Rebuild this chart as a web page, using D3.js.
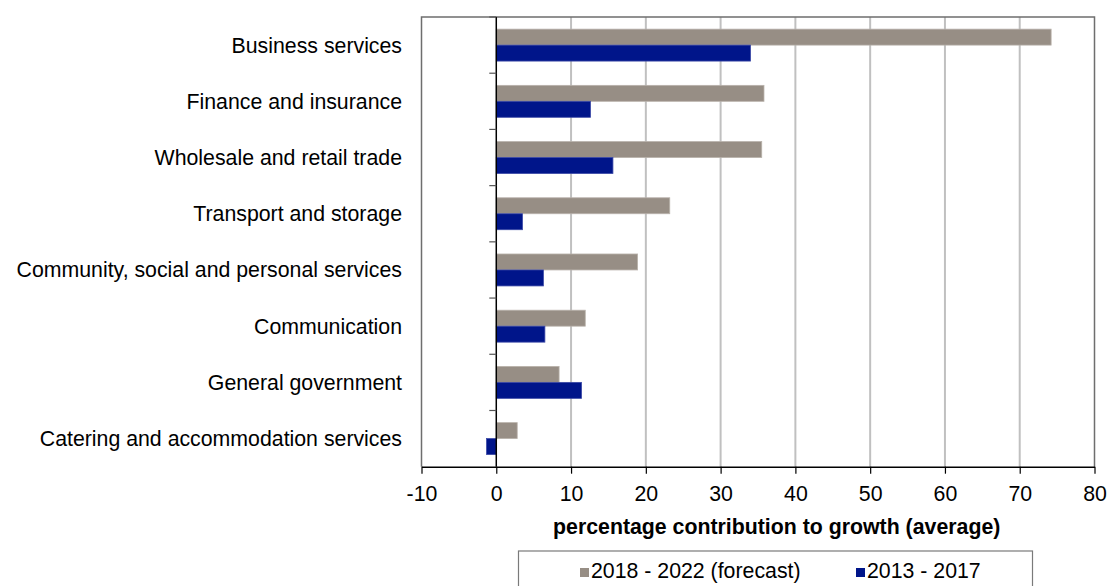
<!DOCTYPE html>
<html>
<head>
<meta charset="utf-8">
<script src="https://cdn.jsdelivr.net/npm/d3@7/dist/d3.min.js"></script>
<style>
  html, body { margin: 0; padding: 0; background: #fff; }
  svg { display: block; font-family: "Liberation Sans", Arial, sans-serif; }
</style>
</head>
<body>
<svg id="chart" width="1107" height="586"></svg>
<script>
// Sectors, top to bottom
const categories = [
  "Business services",
  "Finance and insurance",
  "Wholesale and retail trade",
  "Transport and storage",
  "Community, social and personal services",
  "Communication",
  "General government",
  "Catering and accommodation services"
];
// Average percentage contribution to growth per period
const seriesNames = ["2018 - 2022 (forecast)", "2013 - 2017"];
const forecastValues = [74.2, 35.8, 35.5, 23.2, 18.9, 11.9, 8.4, 2.8];
const pastValues = [34.0, 12.6, 15.6, 3.5, 6.3, 6.5, 11.4, -1.3];
const xTicks = [-10, 0, 10, 20, 30, 40, 50, 60, 70, 80];
const axisTitle = "percentage contribution to growth (average)";

const colors = { fill: ["#978e85", "#00158a"], edge: ["#b9b2ab", "#3a48a6"] };
const fontSize = 21.3;

const svg = d3.select("#chart");
const plot = { left: 421.5, right: 1094.5, top: 17, bottom: 466.7 };

const x = d3.scaleLinear().domain([-10, 80]).range([plot.left, plot.right]);
const y = d3.scaleBand().domain(categories).range([plot.top, plot.bottom]).padding(0);
const ySub = d3.scaleBand().domain(seriesNames).range([0, y.bandwidth()])
  .paddingInner(0).paddingOuter(0.76);

const rows = categories.map((c, i) => ({
  category: c,
  values: [
    { series: seriesNames[0], idx: 0, value: forecastValues[i] },
    { series: seriesNames[1], idx: 1, value: pastValues[i] }
  ]
}));

// vertical gridlines
svg.append("g")
  .selectAll("line")
  .data(xTicks.filter(t => t > -10 && t < 80 && t !== 0))
  .join("line")
  .attr("x1", d => x(d)).attr("x2", d => x(d))
  .attr("y1", plot.top).attr("y2", plot.bottom)
  .attr("stroke", "#c0c0c0").attr("stroke-width", 2);

// plot-area frame
svg.append("path")
  .attr("d", `M${plot.left},${plot.bottom}V${plot.top}H${plot.right}V${plot.bottom}`)
  .attr("fill", "none").attr("stroke", "#6e6e6e").attr("stroke-width", 1.5);

// bars
const groups = svg.append("g").selectAll("g")
  .data(rows)
  .join("g")
  .attr("transform", d => `translate(0,${y(d.category)})`);

groups.selectAll("rect")
  .data(d => d.values)
  .join("rect")
  .attr("x", d => x(Math.min(0, d.value)))
  .attr("width", d => Math.abs(x(d.value) - x(0)))
  .attr("y", d => ySub(d.series))
  .attr("height", ySub.bandwidth())
  .attr("fill", d => colors.fill[d.idx])
  .attr("stroke", d => colors.edge[d.idx])
  .attr("stroke-width", 0.8);

// category axis along zero, with ticks on band boundaries
const yAxis = svg.append("g");
yAxis.append("line")
  .attr("x1", x(0)).attr("x2", x(0))
  .attr("y1", plot.top).attr("y2", plot.bottom)
  .attr("stroke", "#000").attr("stroke-width", 1.5);
yAxis.selectAll("line.tick")
  .data(categories)
  .join("line")
  .attr("class", "tick")
  .attr("x1", x(0) - 7).attr("x2", x(0))
  .attr("y1", d => y(d)).attr("y2", d => y(d))
  .attr("stroke", "#555").attr("stroke-width", 1.2);

// category labels
svg.append("g")
  .selectAll("text")
  .data(categories)
  .join("text")
  .attr("x", 402)
  .attr("y", d => y(d) + y.bandwidth() / 2 + 7.5)
  .attr("text-anchor", "end")
  .attr("font-size", fontSize)
  .attr("fill", "#000")
  .text(d => d);

// value axis
const xAxis = svg.append("g")
  .attr("transform", `translate(0,${plot.bottom})`)
  .call(d3.axisBottom(x).tickValues(xTicks).tickSize(7).tickSizeOuter(0).tickFormat(d => String(d)));
xAxis.select(".domain").attr("stroke", "#000").attr("stroke-width", 1.5);
xAxis.selectAll(".tick line").attr("stroke", "#000").attr("stroke-width", 1.2);
xAxis.selectAll(".tick text")
  .attr("y", 34).attr("dy", null)
  .attr("font-size", fontSize)
  .attr("font-family", "'Liberation Sans', Arial, sans-serif")
  .attr("fill", "#000");

// axis title
svg.append("text")
  .attr("x", 776.7).attr("y", 533.5)
  .attr("text-anchor", "middle")
  .attr("font-size", fontSize)
  .attr("font-weight", "bold")
  .text(axisTitle);

// legend
const legend = svg.append("g");
legend.append("rect")
  .attr("x", 518.5).attr("y", 551)
  .attr("width", 514).attr("height", 50)
  .attr("fill", "#fff").attr("stroke", "#7a7a7a").attr("stroke-width", 1.2);
const legendX = [580, 856];
const items = legend.selectAll("g.item")
  .data(seriesNames)
  .join("g")
  .attr("class", "item")
  .attr("transform", (d, i) => `translate(${legendX[i]},0)`);
items.append("rect")
  .attr("x", 0).attr("y", 568)
  .attr("width", 9).attr("height", 9)
  .attr("fill", (d, i) => colors.fill[i]);
items.append("text")
  .attr("x", 11).attr("y", 578)
  .attr("font-size", fontSize)
  .text(d => d);
</script>
</body>
</html>
